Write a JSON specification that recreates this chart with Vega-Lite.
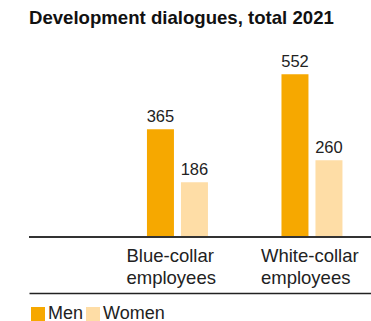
{
  "$schema": "https://vega.github.io/schema/vega-lite/v6.json",
  "autosize": "none",
  "width": 342,
  "height": 177,
  "padding": {"left": 29, "top": 60, "right": 0, "bottom": 84},
  "background": "white",
  "config": {
    "font": "Liberation Sans",
    "view": {"stroke": null}
  },
  "title": {
    "text": "Development dialogues, total 2021",
    "anchor": "start",
    "frame": "group",
    "fontSize": 18.6,
    "fontWeight": "bold",
    "color": "#111111",
    "offset": 27
  },
  "data": {
    "values": [
      {"group": "Blue-collar employees", "gender": "Men", "value": 365},
      {"group": "Blue-collar employees", "gender": "Women", "value": 186},
      {"group": "White-collar employees", "gender": "Men", "value": 552},
      {"group": "White-collar employees", "gender": "Women", "value": 260}
    ]
  },
  "encoding": {
    "x": {
      "field": "group",
      "type": "nominal",
      "sort": ["Blue-collar employees", "White-collar employees"],
      "scale": {"paddingInner": 0.2565, "paddingOuter": 0.3995, "align": 0.916},
      "axis": {
        "title": null,
        "orient": "bottom",
        "offset": 56,
        "domain": true,
        "domainColor": "#222222",
        "domainWidth": 1.5,
        "ticks": false,
        "tickSize": 0,
        "labelAlign": "left",
        "labelOffset": -51,
        "labelBaseline": "alphabetic",
        "labelPadding": -32,
        "labelAngle": 0,
        "labelFontSize": 18.5,
        "labelLineHeight": 22,
        "labelColor": "#222222",
        "labelFlush": false,
        "labelOverlap": false,
        "labelExpr": "split(datum.value, ' ')"
      }
    },
    "xOffset": {
      "field": "gender",
      "type": "nominal",
      "sort": ["Men", "Women"],
      "scale": {"paddingInner": 0.206, "paddingOuter": 0.574}
    },
    "y": {
      "field": "value",
      "type": "quantitative",
      "scale": {"domain": [0, 600], "nice": false},
      "axis": null
    }
  },
  "layer": [
    {
      "mark": {"type": "bar"},
      "encoding": {
        "color": {
          "field": "gender",
          "type": "nominal",
          "sort": ["Men", "Women"],
          "scale": {"domain": ["Men", "Women"], "range": ["#F6A800", "#FEDDA6"]},
          "legend": {
            "title": null,
            "orient": "bottom",
            "direction": "horizontal",
            "symbolType": "square",
            "symbolSize": 196,
            "symbolStrokeWidth": 0,
            "symbolOpacity": 1,
            "labelFontSize": 18,
            "labelColor": "#222222",
            "labelOffset": 1,
            "columnPadding": -3,
            "padding": 0,
            "offset": 12
          }
        }
      }
    },
    {
      "mark": {"type": "text", "baseline": "alphabetic", "dy": -7, "fontSize": 16.5, "color": "#222222"},
      "encoding": {
        "text": {"field": "value", "type": "quantitative"}
      }
    },
    {
      "mark": {"type": "rule", "color": "#333333", "strokeWidth": 2},
      "encoding": {
        "y": {"datum": 0},
        "x": null,
        "xOffset": null
      }
    }
  ]
}
